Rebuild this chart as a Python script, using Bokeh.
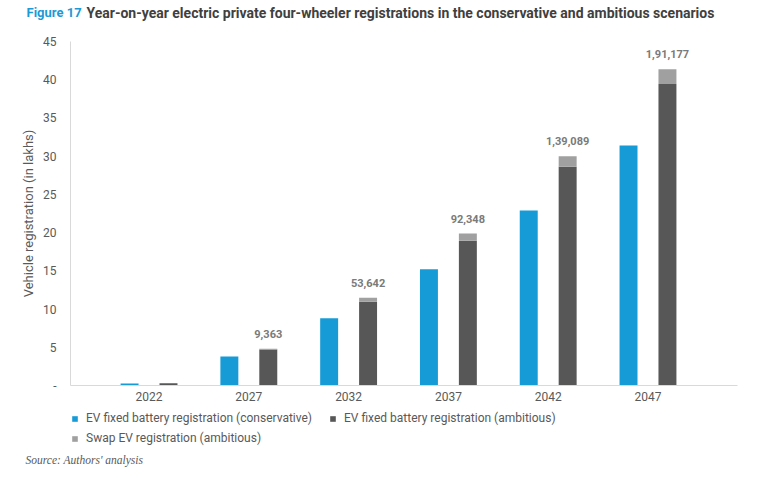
from bokeh.plotting import figure
from bokeh.models import ColumnDataSource, Range1d, FixedTicker, Label, Legend, LegendItem
from bokeh.transform import dodge
from bokeh.layouts import column, row
from bokeh.core.properties import value
from bokeh.embed import file_html
from bokeh.resources import INLINE

# ---- data (in lakhs) ----
years = ["2022", "2027", "2032", "2037", "2042", "2047"]
conservative_fixed = [0.25, 3.8, 8.8, 15.2, 22.9, 31.4]
ambitious_fixed = [0.28, 4.7, 10.95, 18.95, 28.6, 39.45]
swap_ambitious = [0.0, 0.09363, 0.53642, 0.92348, 1.39089, 1.91177]
swap_labels = ["", "9,363", "53,642", "92,348", "1,39,089", "1,91,177"]
y_ticks = [0, 5, 10, 15, 20, 25, 30, 35, 40, 45]
y_tick_labels = ["-", "5", "10", "15", "20", "25", "30", "35", "40", "45"]
series_names = ["EV fixed battery registration (conservative)",
                "EV fixed battery registration (ambitious)",
                "Swap EV registration (ambitious)"]

BLUE = "#179bd7"
DARK = "#575757"
SWAP = "#a0a0a0"
TXT = "#595959"
FONT = "Roboto"
W = 751


def blank_fig(h):
    f = figure(width=W, height=h, output_backend="svg", toolbar_location=None,
               x_range=Range1d(0, W), y_range=Range1d(h, 0),
               x_axis_type=None, y_axis_type=None,
               min_border=0, min_border_left=0, min_border_right=0,
               min_border_top=0, min_border_bottom=0)
    f.outline_line_color = None
    f.xgrid.visible = False
    f.ygrid.visible = False
    return f


# ---- title ----
tfig = blank_fig(26)
tfig.add_layout(Label(x=26, y=12, text="Figure 17", text_font=FONT, text_font_size="13px",
                      text_font_style="bold", text_color="#1b9ad6", text_baseline="middle"))
tfig.add_layout(Label(x=86, y=12,
                      text="Year-on-year electric private four-wheeler registrations in the conservative and ambitious scenarios",
                      text_font=FONT, text_font_size="14px", text_font_style="bold",
                      text_color="#404040", text_baseline="middle"))

# ---- main chart ----
idx = list(range(len(years)))
total = [a + s for a, s in zip(ambitious_fixed, swap_ambitious)]
src = ColumnDataSource(dict(x=idx, cons=conservative_fixed, fixed=ambitious_fixed,
                            top=total, lab=swap_labels))

p = figure(width=W, height=384, output_backend="svg", toolbar_location=None,
           x_range=Range1d(-0.787, 5.897), y_range=Range1d(0, 45),
           min_border_left=70, min_border_right=14, min_border_top=15, min_border_bottom=25)
p.outline_line_color = None
p.xgrid.visible = False
p.ygrid.visible = False

p.vbar(x=dodge("x", -0.195), top="cons", width=0.18, source=src,
       fill_color=BLUE, line_color=None)
p.vbar(x=dodge("x", 0.195), top="fixed", width=0.18, source=src,
       fill_color=DARK, line_color=None)
p.vbar(x=dodge("x", 0.195), bottom="fixed", top="top", width=0.18, source=src,
       fill_color=SWAP, line_color=None)
p.text(x=dodge("x", 0.195), y="top", text="lab", source=src,
       text_align="center", text_baseline="middle", y_offset=-15,
       text_font=value(FONT), text_font_size="11px", text_font_style="bold",
       text_color="#7a7a7a")

p.xaxis.ticker = FixedTicker(ticks=idx)
p.xaxis.major_label_overrides = {i: y for i, y in zip(idx, years)}
p.yaxis.ticker = FixedTicker(ticks=y_ticks)
p.yaxis.major_label_overrides = {t: l for t, l in zip(y_ticks, y_tick_labels)}
for ax in (p.xaxis[0], p.yaxis[0]):
    ax.major_tick_line_color = None
    ax.minor_tick_line_color = None
    ax.axis_line_color = "#d9d9d9"
    ax.major_label_text_color = TXT
    ax.major_label_text_font = FONT
    ax.major_label_text_font_size = "12px"
p.xaxis.major_label_standoff = 0
p.yaxis.major_label_standoff = 8
p.yaxis.axis_label = "Vehicle registration (in lakhs)"
p.yaxis.axis_label_text_font = FONT
p.yaxis.axis_label_text_font_size = "13px"
p.yaxis.axis_label_text_font_style = "normal"
p.yaxis.axis_label_text_color = TXT
p.yaxis.axis_label_standoff = 4

# ---- footer: legend + source ----
ffig = blank_fig(62)
colors = [BLUE, DARK, SWAP]
fields = ["cons", "fixed", "top"]
locs = [(71, 47), (329, 47), (71, 27)]
for name, c, fld, loc in zip(series_names, colors, fields, locs):
    # legend proxy drawn from the same data, hidden in the footer
    r = ffig.vbar(x="x", top=fld, width=0.18, source=src, fill_color=c,
                  line_color=None, visible=False)
    ffig.add_layout(Legend(items=[LegendItem(label=name, renderers=[r])], location=loc,
                           glyph_width=7, glyph_height=7, label_standoff=8, padding=0,
                           margin=0, spacing=0, border_line_color=None,
                           background_fill_alpha=0, inactive_fill_alpha=0,
                           label_text_font=FONT,
                           label_text_font_size="12px", label_text_color=TXT,
                           label_height=14))
ffig.add_layout(Label(x=25, y=49, text="Source: Authors' analysis",
                      text_font="Liberation Serif", text_font_size="11.5px",
                      text_font_style="italic", text_color=TXT, text_baseline="middle"))

layout = column(row(tfig), row(p), row(ffig), spacing=0)
open("out.html", "w").write(file_html(layout, INLINE))
